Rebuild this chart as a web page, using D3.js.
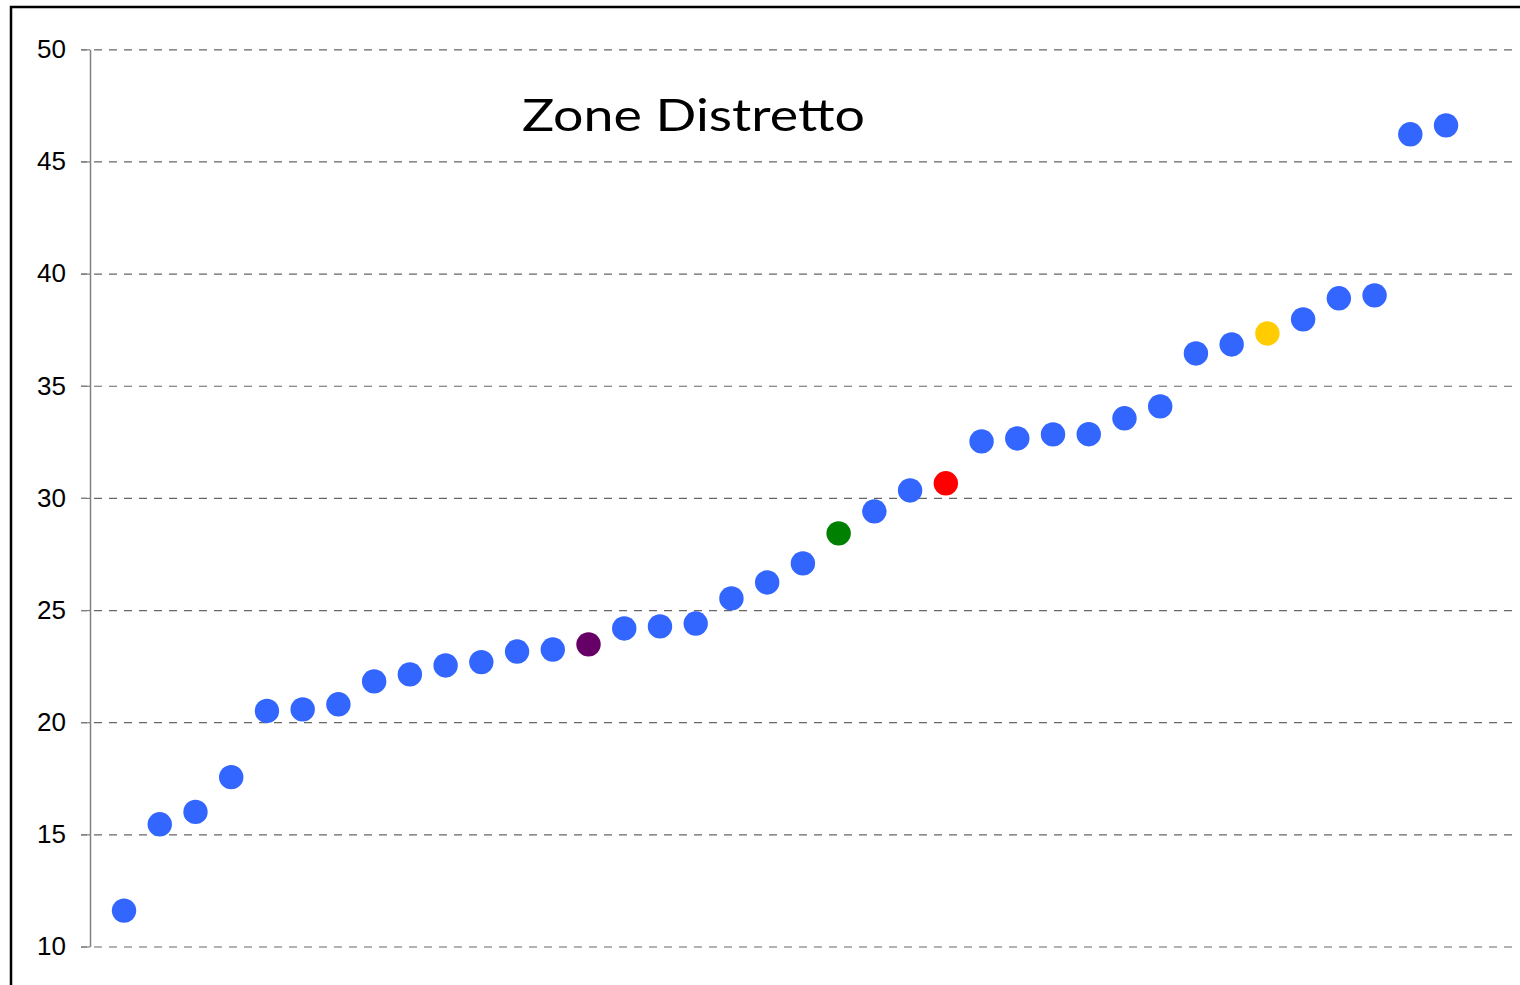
<!DOCTYPE html>
<html>
<head>
<meta charset="utf-8">
<script src="https://cdn.jsdelivr.net/npm/d3@7"></script>
<style>
    body { margin: 0; background: #fff; }
    svg { display: block; }
</style>
</head>
<body>
<svg id="chart" width="1520" height="985"></svg>
<script>
// Chart values
const title = "Zone Distretto";
const zones = d3.range(1, 39);
const values = [
    11.6, 15.45, 16.0, 17.55, 20.5, 20.57, 20.8, 21.82, 22.13, 22.53,
    22.68, 23.15, 23.24, 23.47, 24.18, 24.27, 24.4, 25.52, 26.23, 27.08,
    28.42, 29.4, 30.33, 30.65, 32.52, 32.65, 32.83, 32.84, 33.55, 34.08,
    36.44, 36.84, 37.33, 37.96, 38.9, 39.03, 46.21, 46.61,
];
// highlighted zones (by index) and their colours
const highlightZones = [14, 21, 24, 33];
const highlightColors = ["#660066", "#008000", "#ff0000", "#ffcc00"];
const yTicks = [10, 15, 20, 25, 30, 35, 40, 45, 50];

const baseColor = "#3366ff";

const svg = d3.select("#chart");
const axisX = 90;
const gridRight = 1512;

const x = d3.scaleLinear().domain([0, 40]).range([88.3, 1517.5]);
const y = d3.scaleLinear().domain([10, 50]).range([946.5, 49.3]);

// outer frame (runs off the right/bottom edge)
svg.append("rect")
    .attr("x", 11)
    .attr("y", 7)
    .attr("width", 1540)
    .attr("height", 1000)
    .attr("fill", "none")
    .attr("stroke", "#000")
    .attr("stroke-width", 2.5);

// dashed gridlines
const grid = svg.append("g")
    .attr("class", "grid")
    .attr("transform", `translate(${gridRight},0)`)
    .call(d3.axisLeft(y).tickValues(yTicks).tickFormat("").tickSize(gridRight - 81).tickSizeOuter(0));
grid.select(".domain").remove();
grid.selectAll("line")
    .attr("stroke", "#666")
    .attr("stroke-width", 1.2)
    .attr("stroke-dasharray", "8,7");

// y axis
const yAxis = svg.append("g")
    .attr("transform", `translate(${axisX},0)`)
    .call(d3.axisLeft(y).tickValues(yTicks).tickSize(9).tickSizeOuter(0).tickPadding(15));
yAxis.select(".domain").attr("stroke", "#808080").attr("stroke-width", 1.5);
yAxis.selectAll(".tick line").attr("stroke", "#808080").attr("stroke-width", 1.2);
yAxis.selectAll(".tick text")
    .attr("fill", "#000")
    .style("font-family", "'Liberation Sans', Arial, sans-serif")
    .style("font-size", "26px");

// title
svg.append("text")
    .attr("x", 522)
    .attr("y", 131)
    .attr("textLength", 343)
    .attr("lengthAdjust", "spacingAndGlyphs")
    .style("font-family", "Lato, 'Open Sans', sans-serif")
    .style("font-size", "45px")
    .attr("fill", "#000")
    .text(title);

// points
svg.append("g")
    .selectAll("circle")
    .data(zones)
    .join("circle")
    .attr("cx", (d) => x(d))
    .attr("cy", (d, i) => y(values[i]))
    .attr("r", 12.2)
    .attr("fill", (d) => {
        const k = highlightZones.indexOf(d);
        return k >= 0 ? highlightColors[k] : baseColor;
    });
</script>
</body>
</html>
